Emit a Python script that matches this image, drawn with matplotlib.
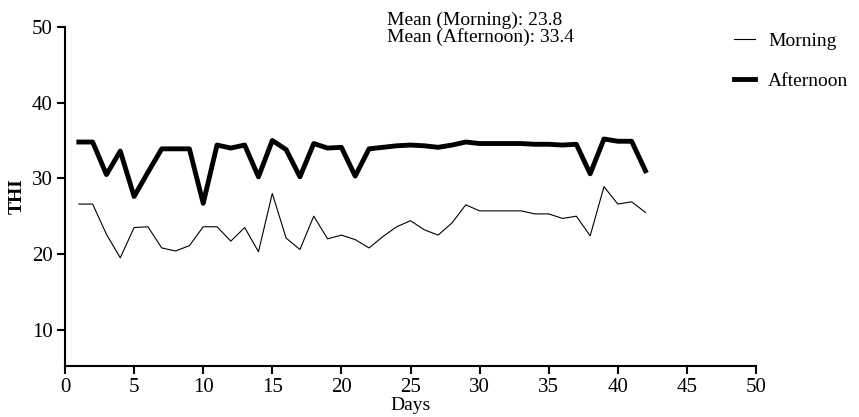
import matplotlib
matplotlib.use("Agg")
from matplotlib import pyplot as plt

days = list(range(1, 43))
morning = [26.6, 26.6, 22.6, 19.5, 23.5, 23.6, 20.8, 20.4, 21.1, 23.6,
           23.6, 21.7, 23.5, 20.3, 28.0, 22.1, 20.6, 25.0, 22.0, 22.5,
           21.9, 20.8, 22.3, 23.6, 24.4, 23.2, 22.5, 24.1, 26.5, 25.7,
           25.7, 25.7, 25.7, 25.3, 25.3, 24.7, 25.0, 22.4, 28.9, 26.6,
           26.9, 25.5]
afternoon = [34.8, 34.8, 30.5, 33.6, 27.6, 30.8, 33.9, 33.9, 33.9, 26.7,
             34.4, 34.0, 34.4, 30.2, 35.0, 33.8, 30.2, 34.6, 34.0, 34.1,
             30.3, 33.9, 34.1, 34.3, 34.4, 34.3, 34.1, 34.4, 34.8, 34.6,
             34.6, 34.6, 34.6, 34.5, 34.5, 34.4, 34.5, 30.6, 35.2, 34.9,
             34.9, 31.0]
x_ticks = [0, 5, 10, 15, 20, 25, 30, 35, 40, 45, 50]
y_ticks = [10, 20, 30, 40, 50]
mean_text = ["Mean (Morning): 23.8", "Mean (Afternoon): 33.4"]

plt.rcParams['font.family'] = ['Liberation Serif', 'DejaVu Serif']

fig = plt.figure(figsize=(8.59, 4.17), dpi=100)
ax = fig.add_axes([65/859, 1 - 366/417, (756 - 65)/859, (366 - 27)/417])

ax.plot(days, morning, color='black', lw=0.8, label='Morning')
ax.plot(days, afternoon, color='black', lw=3.5, label='Afternoon')

ax.set_xlim(0, 50)
ax.set_ylim(5.2, 50)
ax.set_xticks(x_ticks)
ax.set_yticks(y_ticks)
ax.tick_params(labelsize=15, width=1.5, length=6, direction='out', pad=3)
for s in ['top', 'right']:
    ax.spines[s].set_visible(False)
for s in ['left', 'bottom']:
    ax.spines[s].set_linewidth(1.5)

ax.set_xlabel('Days', fontsize=14, labelpad=0)
ax.set_ylabel('THI', fontsize=14, fontweight='bold', labelpad=4)

fig.text(387/859, 1 - 12/417, "\n".join(mean_text), fontsize=14,
         va='top', ha='left', linespacing=0.9)

fig.legend(loc='upper left', bbox_to_anchor=(734/859, 1 - 32/417),
           frameon=False, fontsize=14, handlelength=1.1, handletextpad=0.65,
           labelspacing=1.15, borderpad=0, borderaxespad=0)

fig.savefig('out.png', dpi=100)
